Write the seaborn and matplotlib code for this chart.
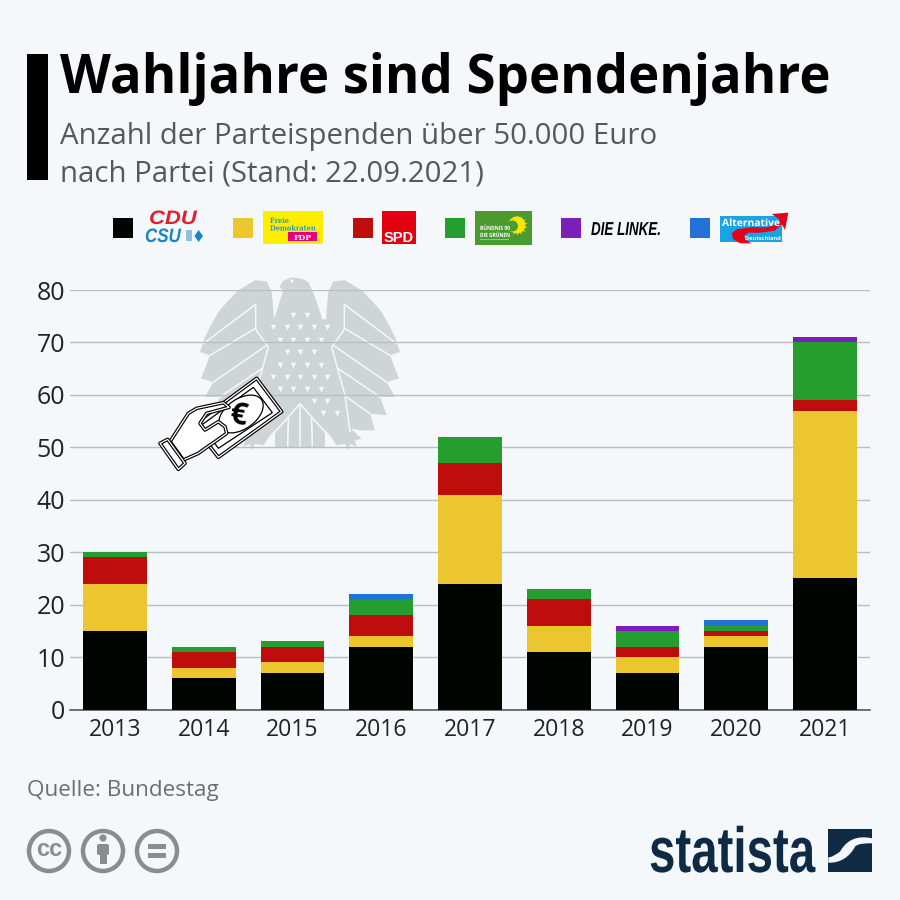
import numpy as np
import pandas as pd
import matplotlib
matplotlib.use('Agg')
import matplotlib.pyplot as plt
import matplotlib.patheffects as pe
import seaborn as sns
from matplotlib.patches import Rectangle, Circle, Polygon, PathPatch, FancyBboxPatch, Ellipse
from matplotlib.path import Path
from matplotlib.transforms import Affine2D

# Daten
years = ['2013', '2014', '2015', '2016', '2017', '2018', '2019', '2020', '2021']
cdu_csu = [15, 6, 7, 12, 24, 11, 7, 12, 25]
fdp = [9, 2, 2, 2, 17, 5, 3, 2, 32]
spd = [5, 3, 3, 4, 6, 5, 2, 1, 2]
gruene = [1, 1, 1, 3, 5, 2, 3, 1, 11]
linke = [0, 0, 0, 0, 0, 0, 1, 0, 1]
afd = [0, 0, 0, 1, 0, 0, 0, 1, 0]
y_ticks = [0, 10, 20, 30, 40, 50, 60, 70, 80]

BG = '#f5f8fb'
BLACK = '#010501'
YELLOW = '#ebc62e'
RED = '#bf0d0e'
GREEN = '#259d2f'
PURPLE = '#7a1fb8'
BLUE = '#2272d6'
NAVY = '#0f2a44'

sns.set_theme(style='white')
plt.rcParams['font.family'] = ['Open Sans', 'DejaVu Sans']

fig = plt.figure(figsize=(9, 9), dpi=100, facecolor=BG)

# Pixel-Achsen fuer Deko (hinter und vor dem Diagramm)
back = fig.add_axes([0, 0, 1, 1], zorder=0)
front = fig.add_axes([0, 0, 1, 1], zorder=2)
for a in (back, front):
    a.set_xlim(0, 900)
    a.set_ylim(900, 0)
    a.axis('off')
    a.patch.set_alpha(0)

# Diagramm
ax = fig.add_axes([70 / 900, (900 - 709.5) / 900, 800 / 900, 419.5 / 900], zorder=1)
ax.patch.set_alpha(0)

df = pd.DataFrame({'year': years, 'cdu': cdu_csu, 'fdp': fdp, 'spd': spd,
                   'gruene': gruene, 'linke': linke, 'afd': afd})
series = [('cdu', BLACK), ('fdp', YELLOW), ('spd', RED),
          ('gruene', GREEN), ('linke', PURPLE), ('afd', BLUE)]
bottom = np.zeros(len(years))
for name, col in series:
    sns.barplot(data=df, x='year', y=name, color=col, saturation=1, width=0.72,
                bottom=bottom, ax=ax, zorder=3, linewidth=0)
    bottom = bottom + df[name].values

ax.set_xlim(-0.507, 8.507)
ax.set_ylim(0, 80)
ax.set_yticks(y_ticks)
ax.set_xlabel('')
ax.set_ylabel('')
ax.grid(axis='y', color='#b9bec2', linewidth=1.0, zorder=1)
ax.grid(axis='x', visible=False)
ax.set_axisbelow(True)
sns.despine(ax=ax, left=True)
ax.spines['bottom'].set_color('#555a5c')
ax.spines['bottom'].set_linewidth(1.2)
ax.tick_params(axis='y', length=0, pad=3.5, labelsize=18, labelcolor='#222222')
ax.tick_params(axis='x', length=0, pad=6, labelsize=16.6, labelcolor='#222222')

# Titelblock
back.add_patch(Rectangle((27, 54), 21, 126, color='black', lw=0))
back.text(60, 93, 'Wahljahre sind Spendenjahre', fontsize=37.9, fontweight='bold',
          color='black', va='baseline')
back.text(60, 144, 'Anzahl der Parteispenden über 50.000 Euro', fontsize=21.15,
          color='#55595d', va='baseline')
back.text(60, 181, 'nach Partei (Stand: 22.09.2021)', fontsize=21.15,
          color='#55595d', va='baseline')


# Bundesadler, Koordinaten aus dem 3x-Ausschnitt
def a3(pts):
    return [(295 + x / 3, 272 + y / 3) for x, y in pts]


def mirror(pts):
    return [(30 - x, y) for x, y in pts]


def draw_line(target, pts, **kw):
    target.plot([p[0] for p in pts], [p[1] for p in pts], **kw)


EAGLE = '#cfd4d7'
right_side = [(82, 142), (93, 142), (97, 90), (100, 60), (115, 28), (150, 25), (200, 55), (232, 88),
              (260, 120), (285, 165), (300, 195), (315, 240), (285, 250), (312, 320), (275, 330),
              (300, 375), (255, 375), (275, 430), (225, 425), (240, 475), (195, 475), (168, 470),
              (200, 500), (180, 505), (185, 525), (165, 515), (160, 535), (150, 515), (125, 520),
              (105, 490), (90, 475), (90, 525), (15, 525)]
head = [(-10, 16), (20, 20), (40, 30), (58, 70)]
neck_left = [(-35, 56), (-47, 44), (-35, 26)]
eagle = head + right_side + mirror(right_side)[::-1][1:-1] + [(-43, 79)] + neck_left
back.add_patch(Polygon(a3(eagle), closed=True, color=EAGLE, lw=0, zorder=1))

stripes = [[(305, 215), (148, 97), (148, 172), (110, 225), (150, 370), (165, 478)],
           [(150, 170), (285, 250)], [(118, 222), (275, 330)],
           [(130, 290), (255, 375)], [(155, 375), (225, 425)]]
for s in stripes:
    for pts in (s, mirror(s)):
        draw_line(back, a3(pts), color=BG, lw=1.1, zorder=2)
for s in ([(15, 395), (90, 480)], [(15, 395), (-60, 480)], [(15, 395), (15, 525)],
          [(50, 440), (52, 525)], [(-20, 440), (-22, 525)]):
    draw_line(back, a3(s), color=BG, lw=1.2, zorder=2)

# Federn
dots = {135: [430, 470], 172: [368, 410, 450, 491, 532], 210: [390, 430, 470, 512],
        247: [410, 450, 491], 285: [390, 430, 470, 512], 322: [368, 410, 450, 491, 532],
        357: [390, 430, 470, 512], 393: [491, 532], 430: [518, 560]}
for yy, xs in dots.items():
    back.scatter([150 + x / 3 for x in xs], [270 + yy / 3] * len(xs), marker='v', s=16, color=BG,
                 lw=0, zorder=2)
back.add_patch(Circle((292, 281), 1.6, color=BG, lw=0, zorder=2))


# Hand mit Geldschein
def b3(pts):
    return [(155 + x / 3, 370 + y / 3) for x, y in pts]


def outline(pts, lw=2.6, zo=5, closed=True):
    front.add_patch(Polygon(b3(pts), closed=closed, fc='white', ec='black', lw=lw, zorder=zo,
                            joinstyle='round'))
    front.add_patch(Polygon(b3(pts), closed=closed, fc='none', ec='white', lw=lw * 0.35,
                            zorder=zo + 0.1, joinstyle='round'))


outline([(305, 25), (380, 125), (190, 262), (115, 165)])
front.add_patch(Polygon(b3([(295, 52), (352, 128), (190, 235), (140, 165)]), closed=True,
                        fc='white', ec='black', lw=0.9, zorder=5.2))
cx, cy = b3([(258, 132)])[0]
front.add_patch(Ellipse((cx, cy), 50, 30, angle=-35, fc='white', ec='black', lw=0.9, zorder=5.3))
outline([(45, 215), (100, 130), (125, 115), (205, 98), (222, 112), (155, 130), (135, 160), (150, 180),
         (190, 155), (210, 170), (215, 190), (180, 215), (165, 225), (130, 250), (85, 270)], zo=6)
outline([(15, 220), (38, 208), (90, 280), (70, 298)], zo=7)
ex, ey = b3([(252, 140)])[0]
front.text(ex, ey, '€', fontsize=22, fontweight='bold', color='black', rotation=-8,
           ha='center', va='center', zorder=8)


# Text horizontal stauchen/strecken, bleibt echter Text
class Squeeze(pe.AbstractPathEffect):
    def __init__(self, x0, sx):
        super().__init__()
        self.x0 = x0
        self.sx = sx

    def draw_path(self, renderer, gc, tpath, affine, rgbFace=None):
        stretch = Affine2D().translate(-self.x0, 0).scale(self.sx, 1).translate(self.x0, 0)
        renderer.draw_path(gc, tpath, affine + stretch, rgbFace)


def fit_text(target, x, y, s, width, **kw):
    t = target.text(x, y, s, va='baseline', **kw)
    ext = t.get_window_extent(fig.canvas.get_renderer())
    t.set_path_effects([Squeeze(ext.x0, width / ext.width)])
    return t


# Legende
legend_boxes = [(113, BLACK), (233, YELLOW), (353, RED), (445, GREEN), (561, PURPLE), (690, BLUE)]
for lx, col in legend_boxes:
    back.add_patch(Rectangle((lx, 218), 20, 20, color=col, lw=0))

# CDU/CSU
fit_text(back, 149, 224, 'CDU', 48, fontsize=14, fontweight='bold', style='italic', color='#e2202c',
         family=['Liberation Sans'])
fit_text(back, 145, 242, 'CSU', 36, fontsize=14, fontweight='bold', style='italic', color='#1a82c8',
         family=['Liberation Sans'])
back.add_patch(Polygon([(198.5, 230), (203, 236), (198.5, 242), (194.5, 236)], color='#1a82c8', lw=0))
back.add_patch(Rectangle((186, 230), 6, 11, color='#8fc0e0', lw=0))
# FDP
back.add_patch(Rectangle((263, 211), 60, 33, color='#ffed00', lw=0))
fit_text(back, 270, 223, 'Freie', 19, fontsize=5.2, color='#1a9ac9', fontweight='bold',
         family=['DejaVu Serif'])
fit_text(back, 270, 230.5, 'Demokraten', 46, fontsize=5.2, color='#1a9ac9', fontweight='bold',
         family=['DejaVu Serif'])
back.add_patch(Rectangle((288, 232), 29, 9, color='#e5007d', lw=0))
back.text(302.5, 239.5, 'FDP', fontsize=5.5, color='white', fontweight='bold', ha='center',
          va='baseline', family=['DejaVu Serif'])
# SPD
back.add_patch(Rectangle((382, 211), 34, 33, color='#e3000f', lw=0))
back.text(399, 241.5, 'SPD', fontsize=10.5, color='white', fontweight='bold', ha='center',
          va='baseline', family=['Liberation Sans'])
# Gruene
back.add_patch(Rectangle((475, 211), 57, 34, color='#4a9a2e', lw=0))
back.add_patch(Circle((517, 225), 8.5, color='#ffe600', lw=0, zorder=3))
back.scatter([517], [225], marker=(14, 1, 0), s=230, color='#ffe600', lw=0, zorder=3)
back.add_patch(Circle((512.5, 226), 5.5, color='#4a9a2e', lw=0, zorder=3.5))
fit_text(back, 480, 230, 'BÜNDNIS 90', 30, fontsize=4.2, color='white', fontweight='bold', zorder=4)
fit_text(back, 480, 237, 'DIE GRÜNEN', 30, fontsize=4.2, color='white', fontweight='bold', zorder=4)
back.add_patch(Rectangle((480, 238.5), 29, 1.3, color='#6cc4e8', lw=0, zorder=4))
# Linke
fit_text(back, 591, 235, 'DIE LINKE.', 70, fontsize=13.5, color='black', fontweight='bold',
         style='italic', family=['Liberation Sans'])
# AfD
back.add_patch(Rectangle((720, 216), 62, 26, color='#19a3e6', lw=0))
swoosh = [(870, 130), (850, 118), (845, 100), (860, 88), (900, 82), (950, 82), (985, 72), (988, 58),
          (965, 42), (1015, 38), (1005, 90), (995, 72), (975, 92), (930, 98), (895, 98), (882, 108),
          (890, 122), (905, 130)]
back.add_patch(Polygon([(450 + x / 3, 200 + y / 3) for x, y in swoosh], closed=True,
                       fc='#e3001b', ec='none', zorder=3))
fit_text(back, 722, 226, 'Alternative', 58, fontsize=7.2, color='white', fontweight='bold', zorder=4)
fit_text(back, 745, 240, 'Deutschland', 36, fontsize=3.8, color='white', fontweight='bold', zorder=4)

# Quelle
back.text(27, 796, 'Quelle: Bundestag', fontsize=16.2, color='#6a6f73', va='baseline')

# CC-Symbole
GREY = '#8a8d8f'
for px in (49, 103, 157):
    back.add_patch(Circle((px, 851), 20, fc='none', ec=GREY, lw=3.2))
back.text(49, 850, 'cc', fontsize=17, fontweight='bold', color=GREY, ha='center', va='center',
          family=['Liberation Sans'])
back.add_patch(Circle((103, 838), 3.6, color=GREY, lw=0))
back.add_patch(FancyBboxPatch((97, 844), 12, 11, boxstyle='round,pad=0,rounding_size=2', color=GREY, lw=0))
back.add_patch(Rectangle((99.5, 850), 7, 14, color=GREY, lw=0))
back.add_patch(Rectangle((148, 844), 18, 4.5, color=GREY, lw=0))
back.add_patch(Rectangle((148, 853), 18, 4.5, color=GREY, lw=0))

# Statista
fit_text(back, 649, 872, 'statista', 166, fontsize=46, fontweight='bold', color=NAVY,
         family=['Liberation Sans'])
back.add_patch(Rectangle((828, 829), 44, 43, color=NAVY, lw=0))


def c3(x, y):
    return (640 + x / 3, 820 + y / 3)


wave = Path([c3(697, 55), c3(650, 45), c3(620, 60), c3(600, 95), c3(585, 105), c3(575, 112), c3(565, 112),
             c3(565, 128), c3(600, 130), c3(630, 110), c3(645, 80), c3(655, 70), c3(675, 70), c3(697, 70),
             c3(697, 55)],
            [Path.MOVETO, Path.CURVE4, Path.CURVE4, Path.CURVE4, Path.CURVE4, Path.CURVE4, Path.CURVE4,
             Path.LINETO, Path.CURVE4, Path.CURVE4, Path.CURVE4, Path.CURVE4, Path.CURVE4, Path.CURVE4,
             Path.CLOSEPOLY])
back.add_patch(PathPatch(wave, fc=BG, ec='none'))

fig.savefig('out.png', dpi=100, facecolor=BG)
